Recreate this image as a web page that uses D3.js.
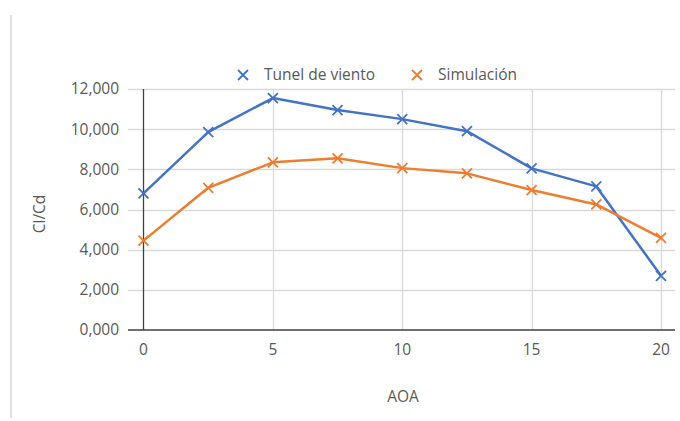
<!DOCTYPE html>
<html><head><meta charset="utf-8">
<script src="https://cdn.jsdelivr.net/npm/d3@7"></script>
<style>body{margin:0;background:#fff;} text{font-family:"Open Sans",sans-serif;}</style>
</head><body>
<svg id="c" width="680" height="421"></svg>
<script>
const aoa = [0, 2.5, 5, 7.5, 10, 12.5, 15, 17.5, 20];
const tunel = [6800, 9850, 11550, 10950, 10500, 9900, 8050, 7150, 2700];
const simulacion = [4450, 7080, 8350, 8550, 8060, 7800, 6970, 6250, 4590];
const seriesNames = ["Tunel de viento", "Simulación"];
const colors = ["#4472C4", "#ED7D31"];
const xTicks = [0, 5, 10, 15, 20];
const yTicks = [0, 2000, 4000, 6000, 8000, 10000, 12000];
const yTickLabels = ["0,000", "2,000", "4,000", "6,000", "8,000", "10,000", "12,000"];

const FS = 15.5;
const svg = d3.select("#c");
const x = d3.scaleLinear().domain([0, 20]).range([143.5, 661]);
const y = d3.scaleLinear().domain([0, 12000]).range([330, 89]);
const gridRight = 675, gridLeft = 128;

// frame line on left
svg.append("line").attr("x1", 11).attr("x2", 11).attr("y1", 15).attr("y2", 418)
  .attr("stroke", "#bfbfbf").attr("stroke-width", 1);

// horizontal gridlines
svg.append("g").selectAll("line").data(yTicks.filter(d => d > 0)).join("line")
  .attr("x1", gridLeft).attr("x2", gridRight)
  .attr("y1", d => Math.round(y(d)) + 0.5).attr("y2", d => Math.round(y(d)) + 0.5)
  .attr("stroke", "#d9d9d9").attr("stroke-width", 1.3);
// vertical gridlines
svg.append("g").selectAll("line").data(xTicks.filter(d => d > 0)).join("line")
  .attr("x1", d => Math.round(x(d)) + 0.5).attr("x2", d => Math.round(x(d)) + 0.5)
  .attr("y1", y(12000)).attr("y2", y(0))
  .attr("stroke", "#d9d9d9").attr("stroke-width", 1.3);

// axes lines
svg.append("line").attr("x1", gridLeft).attr("x2", gridRight).attr("y1", y(0)).attr("y2", y(0))
  .attr("stroke", "#404040").attr("stroke-width", 1.3);
svg.append("line").attr("x1", x(0)).attr("x2", x(0)).attr("y1", y(12000)).attr("y2", y(0))
  .attr("stroke", "#404040").attr("stroke-width", 1.3);

// tick labels
svg.append("g").selectAll("text").data(yTicks).join("text")
  .attr("x", 119).attr("y", d => y(d)).attr("dy", "0.35em")
  .attr("text-anchor", "end").attr("font-size", FS).attr("fill", "#595959")
  .text((d, i) => yTickLabels[i]);
svg.append("g").selectAll("text").data(xTicks).join("text")
  .attr("x", d => x(d)).attr("y", 355)
  .attr("text-anchor", "middle").attr("font-size", FS).attr("fill", "#595959")
  .text(d => d);

// axis titles
svg.append("text").attr("transform", "translate(45,214) rotate(-90)")
  .attr("text-anchor", "middle").attr("font-size", FS).attr("fill", "#595959").text("Cl/Cd");
svg.append("text").attr("x", 403).attr("y", 402)
  .attr("text-anchor", "middle").attr("font-size", FS).attr("fill", "#595959").text("AOA");

// series
const data = [tunel, simulacion];
const line = d3.line().x((d, i) => x(aoa[i])).y(d => y(d));
function cross(g, cx, cy, col) {
  const s = 5;
  g.append("path").attr("d", `M${cx - s},${cy - s}L${cx + s},${cy + s}M${cx - s},${cy + s}L${cx + s},${cy - s}`)
    .attr("stroke", col).attr("stroke-width", 1.8).attr("fill", "none");
}
data.forEach((vals, k) => {
  const g = svg.append("g");
  g.append("path").datum(vals).attr("d", line).attr("fill", "none")
    .attr("stroke", colors[k]).attr("stroke-width", 2.5).attr("stroke-linejoin", "round");
  vals.forEach((v, i) => cross(g, x(aoa[i]), y(v), colors[k]));
});

// legend
const legX = [243, 417];
seriesNames.forEach((n, k) => {
  const g = svg.append("g");
  cross(g, legX[k], 75, colors[k]);
  g.append("text").attr("x", legX[k] + 21).attr("y", 75).attr("dy", "0.35em")
    .attr("font-size", FS).attr("fill", "#595959").text(n);
});
</script>
</body></html>
